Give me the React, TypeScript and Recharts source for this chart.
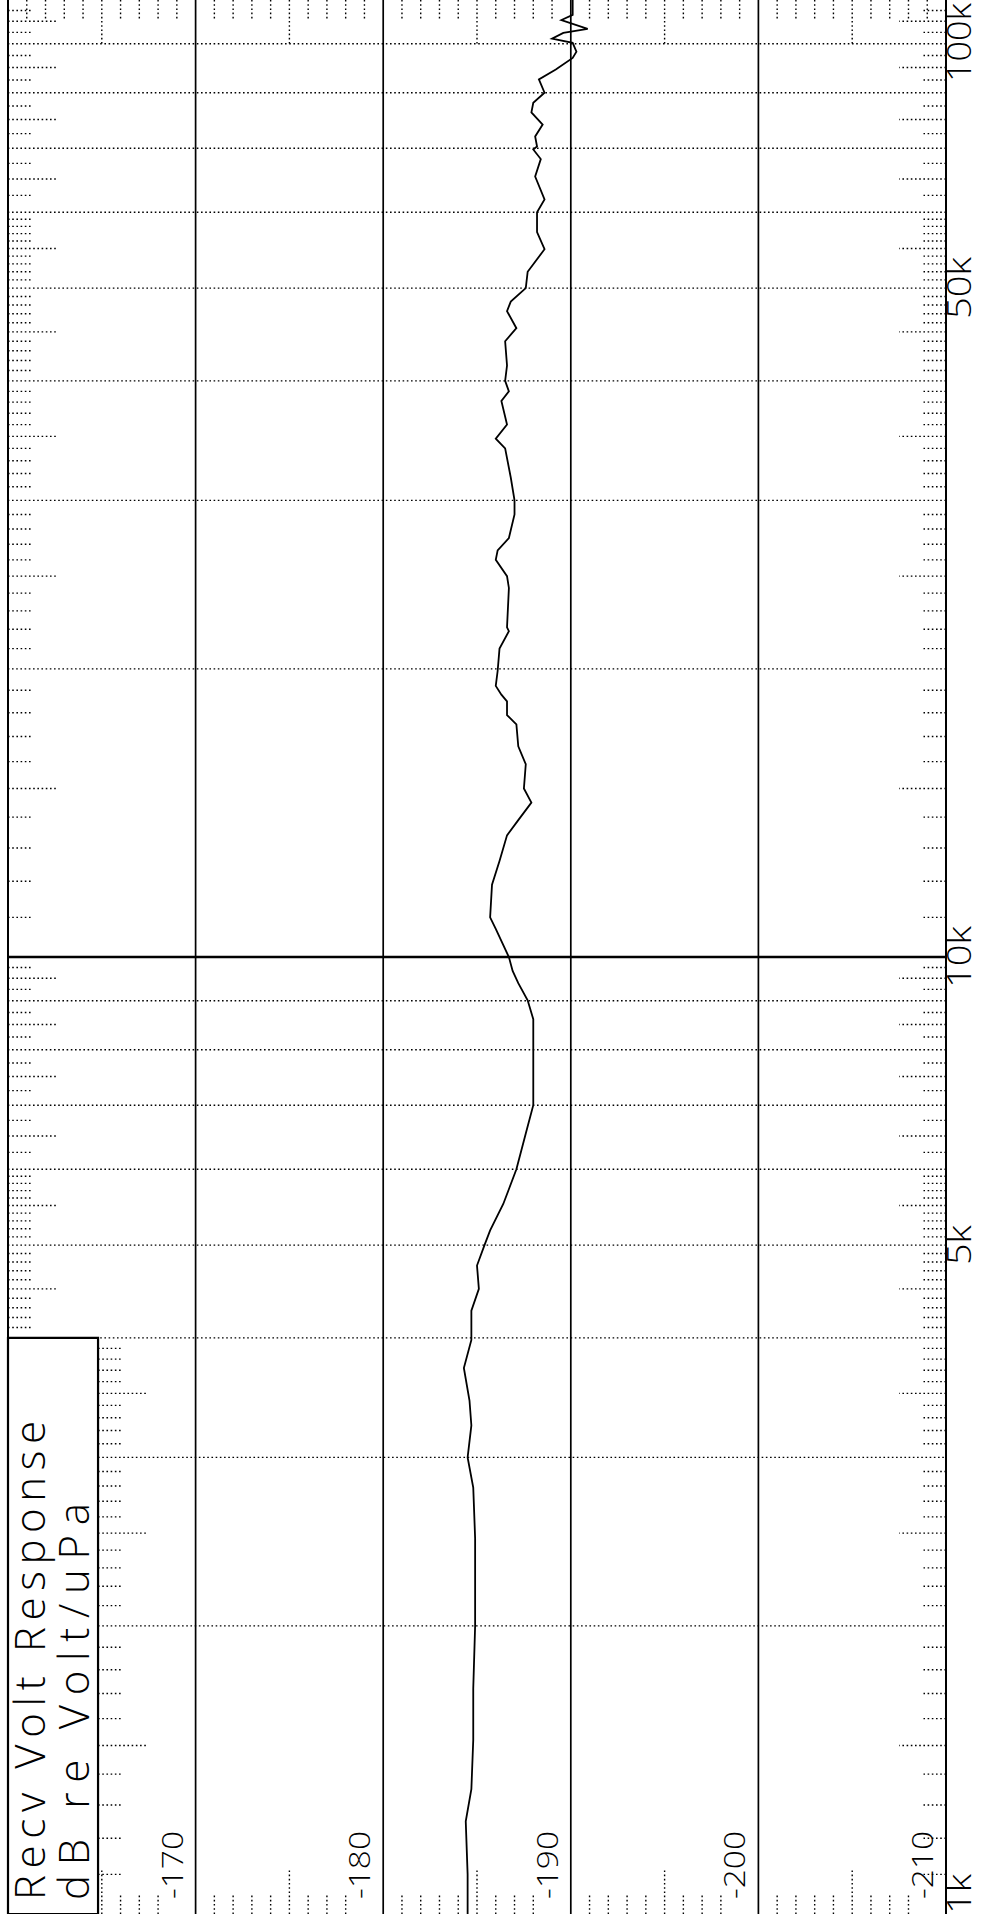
import React from "react";
import { LineChart, Line, XAxis, YAxis, ReferenceLine, ReferenceArea } from "recharts";

const freqHz = [
  1000, 1100, 1250, 1350, 1520, 1720, 2000, 2470, 2790, 3000, 3240, 3440, 3720, 3980,
  4270, 4500, 4760, 5000, 5180, 5520, 6000, 6540, 7000, 8000, 8610, 9010, 9390, 9670,
  10000, 10700, 11000, 11900, 12600, 13400, 13900, 14500, 15000, 15900, 16600, 17500,
  17900, 18500, 18800, 19200, 19900, 21000, 21900, 22100, 24300, 25000, 26000, 26600,
  27400, 29000, 30000, 31700, 34000, 34800, 36000, 38100, 39000, 40000, 41500, 44000,
  45400, 47300, 48400, 50000, 52000, 54900, 57200, 60000, 61900, 65400, 68200, 69800,
  70300, 72000, 74100, 76300, 78100, 80000, 82600, 84600, 87000, 88300, 90200, 91100,
  92400, 93300, 95300, 96500, 100000,
];
const responseDb = [
  -184.5, -184.5, -184.4, -184.7, -184.8, -184.8, -184.9, -184.9, -184.8, -184.5, -184.7, -184.6, -184.3, -184.7,
  -184.7, -185.1, -185.0, -185.4, -185.7, -186.4, -187.1, -187.6, -188.0, -188.0, -188.0, -187.7, -187.2, -186.9,
  -186.7, -186.0, -185.7, -185.8, -186.2, -186.6, -187.2, -187.9, -187.5, -187.6, -187.2, -187.1,
  -186.6, -186.6, -186.3, -186.0, -186.1, -186.2, -186.7, -186.6, -186.7, -186.6, -186.0, -186.1,
  -186.7, -187.0, -187.0, -186.8, -186.5, -186.0, -186.6, -186.3, -186.7, -186.5, -186.6, -186.5,
  -187.1, -186.6, -186.8, -187.6, -187.7, -188.6, -188.2, -188.2, -188.6, -188.1, -188.4, -188.0,
  -188.2, -188.1, -188.5, -187.9, -188.0, -188.6, -188.3, -189.2, -190.1, -190.3, -190.1, -189.0,
  -189.6, -190.9, -189.5, -190.1, -190.1,
];

const dbLabels = [-170, -180, -190, -200, -210];
const freqLabels = [1000, 5000, 10000, 50000, 100000];
const freqGrid = [
  2000, 3000, 4000, 5000, 6000, 7000, 8000, 9000,
  20000, 30000, 40000, 50000, 60000, 70000, 80000, 90000,
];
const boldFreqGrid = [10000];

const DB_LEFT = -160;
const DB_RIGHT = -210;
const F_MIN = 1000;
const F_MAX = 100000;
const LEGEND_EDGE = -164.8; // right side of the title box
const LEGEND_TOP = 4000;
const FONT = "'Open Sans', Lato, sans-serif";

const points = freqHz.map((f, i) => ({ f, db: responseDb[i] }));

// minor frequency ticks: 0.1 steps up to 6, quarter steps 6..10 (per decade)
const minorFreq: { f: number; long: boolean }[] = [];
for (const dec of [1000, 10000]) {
  for (let k = 11; k < 60; k++) {
    if (k % 10 === 0) continue;
    minorFreq.push({ f: (dec * k) / 10, long: k % 10 === 5 });
  }
  for (let q = 25; q < 40; q++) {
    if (q % 4 === 0) continue;
    minorFreq.push({ f: (dec * q) / 4, long: q % 4 === 2 });
  }
}

// minor dB ticks every 1 dB, longer every 5 dB
const minorDb: { d: number; long: boolean }[] = [];
for (let d = -161; d >= -209; d--) {
  if (d % 10 === 0) continue;
  minorDb.push({ d, long: d % 5 === 0 });
}

const dotted = { stroke: "#000", strokeWidth: 1.4, strokeDasharray: "1.6 2.6" };

function DbLabel(props: any) {
  const vb = props.viewBox;
  if (!vb) return null;
  const bottom = vb.y + vb.height;
  return (
    <text
      transform={`translate(${vb.x - 13},${bottom - 15}) rotate(-90)`}
      fontFamily={FONT}
      fontWeight={300}
      fontSize={30}
      textLength={68}
      lengthAdjust="spacingAndGlyphs"
      fill="#000"
    >
      {props.text}
    </text>
  );
}

function FreqTick(props: any) {
  const { x, y, payload } = props;
  const v = payload.value;
  const label = `${v / 1000}k`;
  const anchor = v >= F_MAX ? "end" : v <= F_MIN ? "start" : "middle";
  const dy = v >= F_MAX ? 3 : 0;
  const len = label.length === 4 ? 79 : label.length === 3 ? 62 : 40;
  return (
    <text
      transform={`translate(${x + 25},${y + dy}) rotate(-90)`}
      textAnchor={anchor}
      fontFamily={FONT}
      fontWeight={300}
      fontSize={33}
      textLength={len}
      lengthAdjust="spacingAndGlyphs"
      fill="#000"
    >
      {label}
    </text>
  );
}

function LegendText(props: any) {
  const vb = props.viewBox;
  if (!vb) return null;
  const bottom = vb.y + vb.height;
  return (
    <g fontFamily={FONT} fontWeight={300} fontSize={42} fill="#000">
      <text transform={`translate(${vb.x + 37},${bottom - 14}) rotate(-90)`} textLength={479} lengthAdjust="spacing">
        Recv Volt Response
      </text>
      <text transform={`translate(${vb.x + 81},${bottom - 14}) rotate(-90)`} textLength={397} lengthAdjust="spacing">
        dB re Volt/uPa
      </text>
    </g>
  );
}

export default function App() {
  return (
    <div style={{ position: "absolute", left: 0, top: 0, width: 981, height: 1914, background: "#fff" }}>
      <LineChart width={981} height={1914} data={points} margin={{ top: 0, right: 0, bottom: 0, left: 8 }}>
        <XAxis type="number" dataKey="db" domain={[DB_RIGHT, DB_LEFT]} reversed allowDataOverflow hide />
        <YAxis
          type="number"
          orientation="right"
          scale="log"
          domain={[F_MIN, F_MAX]}
          allowDataOverflow
          ticks={freqLabels}
          interval={0}
          width={35}
          axisLine={false}
          tickLine={false}
          tickSize={0}
          tickMargin={0}
          tick={<FreqTick />}
        />

        {freqGrid.map((f) =>
          f < LEGEND_TOP ? (
            <ReferenceLine key={`fg${f}`} segment={[{ x: LEGEND_EDGE, y: f }, { x: DB_RIGHT, y: f }]} {...dotted} />
          ) : (
            <ReferenceLine key={`fg${f}`} y={f} {...dotted} />
          )
        )}
        {boldFreqGrid.map((f) => (
          <ReferenceLine key={`fb${f}`} y={f} stroke="#000" strokeWidth={2.4} />
        ))}
        <ReferenceLine x={DB_LEFT} stroke="#000" strokeWidth={2} />
        {dbLabels.map((d) => (
          <ReferenceLine
            key={`dg${d}`}
            x={d}
            stroke="#000"
            strokeWidth={d === DB_RIGHT ? 2 : 1.7}
            label={<DbLabel text={String(d)} />}
          />
        ))}

        {minorFreq.map(({ f, long }) => {
          const base = f < LEGEND_TOP ? LEGEND_EDGE : DB_LEFT;
          const len = long ? 2.6 : 1.3;
          return (
            <ReferenceLine key={`ml${f}`} segment={[{ x: base, y: f }, { x: base - len, y: f }]} {...dotted} />
          );
        })}
        {minorFreq.map(({ f, long }) => {
          const len = long ? 2.5 : 1.2;
          return (
            <ReferenceLine key={`mr${f}`} segment={[{ x: DB_RIGHT, y: f }, { x: DB_RIGHT + len, y: f }]} {...dotted} />
          );
        })}
        {minorDb.map(({ d, long }) => (
          <ReferenceLine
            key={`mt${d}`}
            segment={[{ x: d, y: F_MAX }, { x: d, y: F_MAX / (long ? 1.117 : 1.052) }]}
            {...dotted}
          />
        ))}
        {minorDb
          .filter(({ d }) => d < LEGEND_EDGE && d % 10 !== -9)
          .map(({ d, long }) => (
            <ReferenceLine
              key={`mb${d}`}
              segment={[{ x: d, y: F_MIN }, { x: d, y: F_MIN * (long ? 1.117 : 1.052) }]}
              {...dotted}
            />
          ))}

        <Line
          type="linear"
          dataKey="f"
          stroke="#000"
          strokeWidth={1.8}
          dot={false}
          activeDot={false}
          isAnimationActive={false}
        />

        <ReferenceArea
          x1={DB_LEFT}
          x2={LEGEND_EDGE}
          y1={F_MIN}
          y2={LEGEND_TOP}
          fill="#fff"
          fillOpacity={1}
          stroke="#000"
          strokeWidth={2.2}
          zIndex={1500}
          label={<LegendText />}
        />
      </LineChart>
    </div>
  );
}
